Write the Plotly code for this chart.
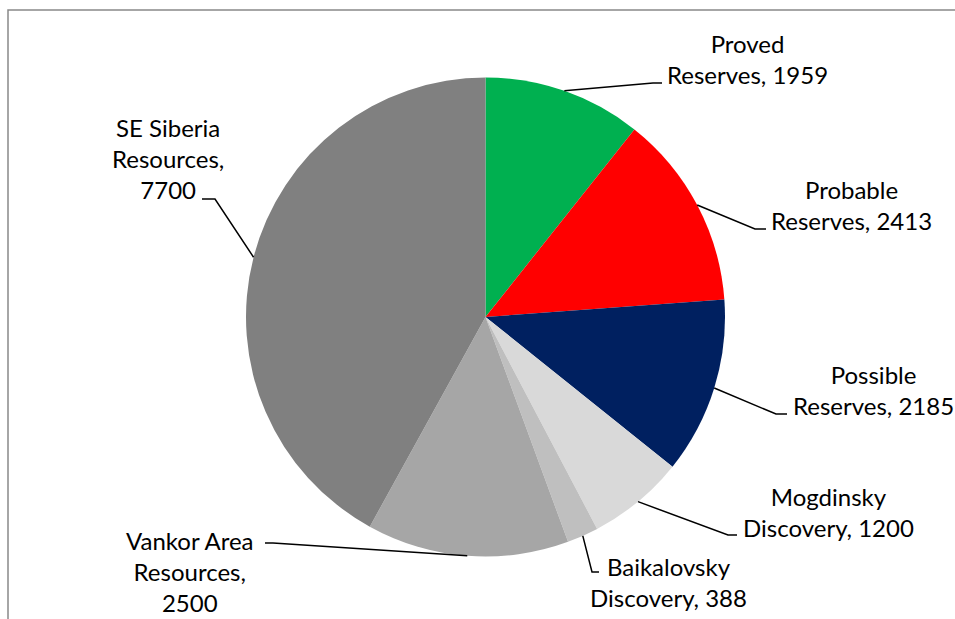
import math
import plotly.graph_objects as go

# ---- data ----
categories = ["Proved Reserves", "Probable Reserves", "Possible Reserves",
              "Mogdinsky Discovery", "Baikalovsky Discovery",
              "Vankor Area Resources", "SE Siberia Resources"]
values = [1959, 2413, 2185, 1200, 388, 2500, 7700]
label_texts = ["Proved<br>Reserves, 1959", "Probable<br>Reserves, 2413",
               "Possible<br>Reserves, 2185", "Mogdinsky<br>Discovery, 1200",
               "Baikalovsky<br>Discovery, 388",
               "Vankor Area<br>Resources,<br>2500",
               "SE Siberia<br>Resources,<br>7700"]
colors = ["#00B050", "#FF0000", "#002060", "#D9D9D9", "#BFBFBF", "#A6A6A6", "#808080"]

# ---- layout constants (pixels) ----
W, H = 955, 619
CX, CY, R = 485.5, 317.0, 239.5
label_pos = [(747, 59), (851, 205), (873, 390), (828, 512), (668, 582), (190, 571), (168, 158)]
elbows = [((653, 83), (662, 83)), ((755, 229), (766, 229)), ((776, 414), (787, 414)),
          ((728, 535), (737, 535)), ((592, 572), (599, 572)), ((273, 543), (265, 543)),
          ((215, 199), (202, 199))]

def px(x):
    return x / W

def py(y):
    return 1 - y / H

fig = go.Figure()
fig.add_trace(go.Pie(
    labels=categories, values=values, sort=False, direction="clockwise", rotation=0,
    marker=dict(colors=colors, line=dict(width=0)),
    textinfo="none", hoverinfo="label+value", showlegend=False,
    domain=dict(x=[px(CX - R), px(CX + R)], y=[py(CY + R), py(CY - R)]),
))

total = sum(values)
cum = 0
shapes = []
annotations = []
for i, v in enumerate(values):
    mid = (cum + v / 2) / total
    cum += v
    ang = 2 * math.pi * mid
    ax = CX + R * math.sin(ang)
    ay = CY - R * math.cos(ang)
    (ex, ey), (hx, hy) = elbows[i]
    path = f"M {px(ax)} {py(ay)} L {px(ex)} {py(ey)} L {px(hx)} {py(hy)}"
    shapes.append(dict(type="path", xref="paper", yref="paper", path=path,
                       line=dict(color="black", width=1.5)))
    lx, ly = label_pos[i]
    annotations.append(dict(x=px(lx), y=py(ly), xref="paper", yref="paper",
                            text=label_texts[i], showarrow=False, align="center",
                            xanchor="center", yanchor="middle",
                            font=dict(family="Lato", size=24, color="black")))

# chart frame
shapes.append(dict(type="rect", xref="paper", yref="paper",
                   x0=px(8), y0=py(640), x1=px(990), y1=py(10),
                   line=dict(color="#898989", width=1.5), fillcolor="rgba(0,0,0,0)"))

fig.update_layout(width=W, height=H, margin=dict(l=0, r=0, t=0, b=0),
                  paper_bgcolor="white", plot_bgcolor="white",
                  shapes=shapes, annotations=annotations)

fig.write_html("out.html", config={"displayModeBar": False},
               post_script="document.body.style.margin='0';document.body.style.overflow='hidden';")
